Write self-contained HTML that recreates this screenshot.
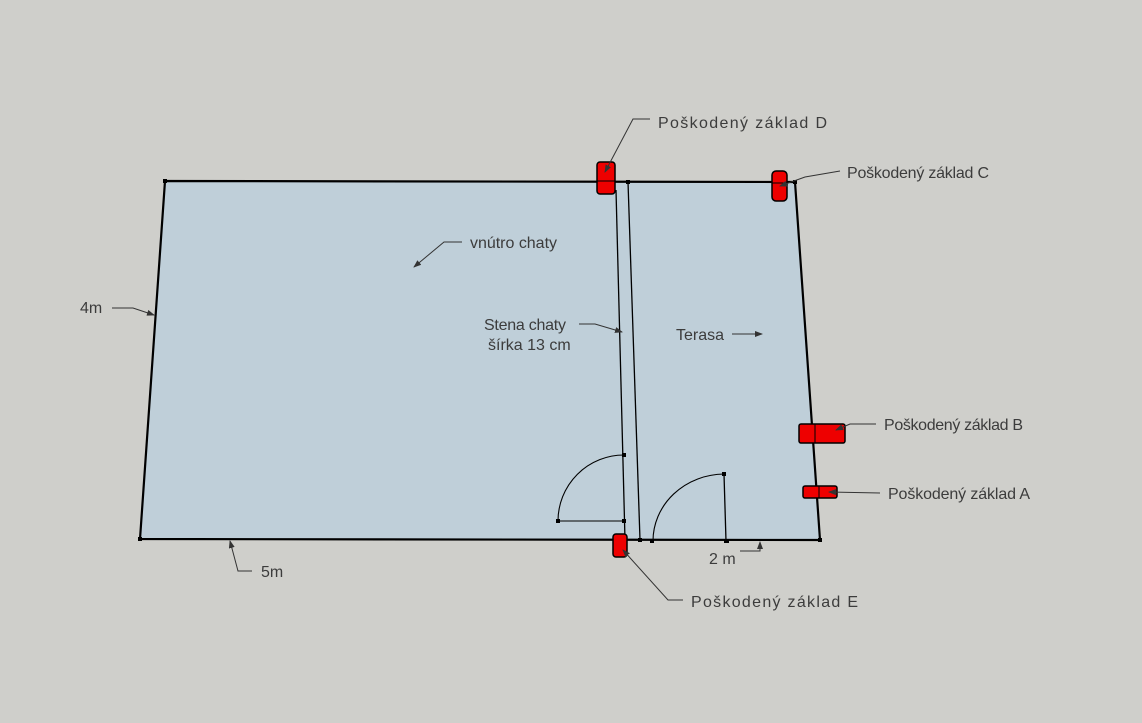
<!DOCTYPE html>
<html><head><meta charset="utf-8"><style>
html,body{margin:0;padding:0;background:#cfcfcb;}
svg{display:block}
text{font-family:"Liberation Sans",sans-serif;font-size:16px;fill:#3c3c3c}
</style></head><body>
<svg width="1142" height="723" viewBox="0 0 1142 723" xmlns="http://www.w3.org/2000/svg">
<defs><marker id="a" markerWidth="8" markerHeight="6" refX="7" refY="3" orient="auto" markerUnits="userSpaceOnUse"><path d="M0,0 L8,3 L0,6z" fill="#333"/></marker></defs>
<rect width="1142" height="723" fill="#cfcfcb"/>
<polygon points="165,181 795,182 820,540 140,539" fill="#bfcfd9" stroke="#000" stroke-width="2.2"/>
<line x1="616" y1="190" x2="625" y2="540" stroke="#000" stroke-width="1.3"/>
<line x1="628" y1="182" x2="640" y2="540" stroke="#000" stroke-width="1.3"/>
<path d="M624,455 A66,66 0 0 0 558,521 L624,521" fill="none" stroke="#000" stroke-width="1.1"/>
<path d="M724,474 A72,67 0 0 0 653,541" fill="none" stroke="#000" stroke-width="1.1"/>
<line x1="724" y1="474" x2="726" y2="541" stroke="#000" stroke-width="1.3"/>
<g fill="#000">
<rect x="163" y="179" width="4" height="4"/><rect x="138" y="537" width="4" height="4"/>
<rect x="818" y="538" width="4" height="4"/><rect x="622" y="453" width="4" height="4"/>
<rect x="556" y="519" width="4" height="4"/><rect x="622" y="519" width="4" height="4"/>
<rect x="722" y="472" width="4" height="4"/><rect x="724" y="539" width="5" height="4"/>
<rect x="638" y="538" width="4" height="4"/><rect x="650" y="539" width="4" height="4"/>
<rect x="626" y="180" width="4" height="4"/><rect x="793" y="180" width="4" height="4"/>
</g>
<g fill="#ee0000" stroke="#000" stroke-width="1.5">
<rect x="597" y="162" width="18" height="32" rx="3"/>
<rect x="772" y="171" width="15" height="30" rx="4"/>
<rect x="799" y="424" width="46" height="19" rx="2"/>
<rect x="803" y="486" width="34" height="12" rx="2"/>
<rect x="613" y="534" width="14" height="23" rx="3"/>
</g>
<g stroke="#000" stroke-width="1">
<line x1="597" y1="181" x2="615" y2="181"/><line x1="815" y1="424" x2="815" y2="443"/>
<line x1="819" y1="486" x2="819" y2="498"/><line x1="772" y1="183" x2="787" y2="183"/>
</g>
<g fill="none" stroke="#333" stroke-width="1" marker-end="url(#a)">
<polyline points="650,119 633,119 605,172"/>
<polyline points="840,171 805,177 780,186"/>
<polyline points="876,424 850,424 836,430"/>
<polyline points="880,493 829,492"/>
<polyline points="683,600 668,600 623,550"/>
<polyline points="112,308 133,308 154,315"/>
<polyline points="252,571 238,571 230,541"/>
<polyline points="462,242 444,242 414,267"/>
<polyline points="579,324 595,324 622,332"/>
<polyline points="732,334 762,334"/>
<polyline points="740,551 760,551 760,542"/>
</g>
<text x="658" y="128" textLength="169">Poškodený základ D</text>
<text x="847" y="178" textLength="142">Poškodený základ C</text>
<text x="884" y="430" textLength="139">Poškodený základ B</text>
<text x="888" y="499" textLength="142">Poškodený základ A</text>
<text x="691" y="607" textLength="167">Poškodený základ E</text>
<text x="80" y="313">4m</text>
<text x="261" y="577">5m</text>
<text x="470" y="248" textLength="87">vnútro chaty</text>
<text x="484" y="330" textLength="82">Stena chaty</text>
<text x="488" y="350">šírka 13 cm</text>
<text x="676" y="340">Terasa</text>
<text x="709" y="564">2 m</text>
</svg>
</body></html>
